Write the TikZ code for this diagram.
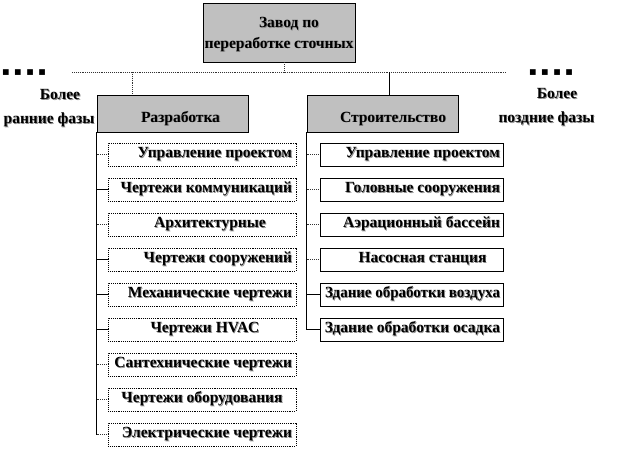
\documentclass[tikz,border=0pt]{standalone}
\usepackage{fontspec}
\setmainfont{Liberation Serif}
\newfontfamily\symfont{DejaVu Sans}
\definecolor{boxgray}{HTML}{C0C0C0}
\newcommand\shd[1]{\leavevmode\rlap{\textcolor{black!45}{\kern0.9pt\raisebox{-0.9pt}{#1}}}#1}
\newcommand\rtxt[2]{\makebox[#1][r]{\shd{#2}}}
\newcommand\lowtxt[2]{\raisebox{#1}[0pt][0pt]{#2}}
\begin{document}
\begin{tikzpicture}[x=1pt,y=-1pt,
  every node/.style={font=\fontsize{15.5}{21}\selectfont\bfseries, inner sep=0pt},
  graybox/.style={draw=black, fill=boxgray, line width=0.9pt, align=center},
  lsub/.style={draw=black, densely dotted, line width=0.9pt, fill=white,
    minimum width=188, minimum height=23},
  rsub/.style={draw=black, line width=0.8pt, fill=white,
    minimum width=183, minimum height=23},
  dotline/.style={densely dotted, line width=0.9pt, draw=black!80},
  solidline/.style={line width=0.8pt, draw=black},
  sidelabel/.style={},
  squares/.style={font=\symfont\fontsize{7.5}{8}\selectfont}
]
\useasboundingbox (0,0) rectangle (623,451);

% top
\node[graybox, minimum width=152, minimum height=59] (top) at (279,32.5)
  {\lowtxt{-5.5pt}{\hspace*{20pt}\shd{Завод по}}\\[0pt]\lowtxt{-5pt}{\shd{переработке сточных}}};
\coordinate (j0) at (284,72);
\coordinate (hl) at (72,72);
\coordinate (hr) at (506,72);
\draw[dotline] (hl) -- (hr);
\draw[dotline] (top.south -| j0) -- (j0);

% side labels
\node[squares] (sqL) at (24,73) {■\hspace{5pt}■\hspace{5pt}■\hspace{5pt}■};
\node[squares] (sqR) at (551,73) {■\hspace{5pt}■\hspace{5pt}■\hspace{5pt}■};
\node[sidelabel] (earlyA) at (60,95) {\shd{Более}};
\node[sidelabel] (earlyB) at (49,120) {\shd{ранние фазы}};
\node[sidelabel] (lateA) at (557,94) {\shd{Более}};
\node[sidelabel] (lateB) at (546.5,119) {\shd{поздние фазы}};

% level 1
\node[graybox, minimum width=151, minimum height=37] (dev) at (172.5,113.5)
  {\lowtxt{-8.5pt}{\hspace*{16pt}\shd{Разработка}}};
\node[graybox, minimum width=151, minimum height=37] (con) at (382.5,113.5)
  {\lowtxt{-8.5pt}{\hspace*{21pt}\shd{Строительство}}};
\coordinate (j1) at (132,72);
\coordinate (j2) at (389,72);
\draw[dotline] (j1) -- (j1 |- dev.north);
\draw[solidline] (j2) -- (j2 |- con.north);

% left column
\node[lsub] (L1) at (202,154.5) {\rtxt{180pt}{Управление проектом}};
\node[lsub] (L2) at (202,189.5) {\rtxt{180pt}{Чертежи коммуникаций}};
\node[lsub] (L3) at (202,224.5) {\hspace*{16pt}\shd{Архитектурные}};
\node[lsub] (L4) at (202,259.5) {\rtxt{180pt}{Чертежи сооружений}};
\node[lsub] (L5) at (202,294.5) {\rtxt{180pt}{Механические чертежи}};
\node[lsub] (L6) at (202,329.5) {\hspace*{6pt}\shd{Чертежи HVAC}};
\node[lsub] (L7) at (202,364.5) {\rtxt{180pt}{Сантехнические чертежи}};
\node[lsub] (L8) at (202,399.5) {\shd{Чертежи оборудования}};
\node[lsub] (L9) at (202,434.5) {\rtxt{180pt}{Электрические чертежи}};

\draw[solidline] (dev.south west) -- (dev.south west |- L9.west);
\foreach \n/\s in {L1/dotline,L2/solidline,L3/dotline,L4/solidline,L5/solidline,
  L6/solidline,L7/dotline,L8/dotline,L9/dotline}
  \draw[\s] (dev.south west |- \n.west) -- (\n.west);

% right column
\node[rsub] (R1) at (411.5,154.5) {\rtxt{177pt}{Управление проектом}};
\node[rsub] (R2) at (411.5,189.5) {\rtxt{177pt}{Головные сооружения}};
\node[rsub] (R3) at (411.5,224.5) {\rtxt{177pt}{Аэрационный бассейн}};
\node[rsub] (R4) at (411.5,259.5) {\hspace*{22pt}\shd{Насосная станция}};
\node[rsub] (R5) at (411.5,294.5) {\makebox[177pt][r]{\scalebox{0.965}[1]{\shd{Здание обработки воздуха}}}};
\node[rsub] (R6) at (411.5,329.5) {\rtxt{177pt}{Здание обработки осадка}};

\draw[solidline] (con.south west) -- (con.south west |- R6.west);
\foreach \n/\s in {R1/dotline,R2/dotline,R3/dotline,R4/dotline,R5/solidline,R6/solidline}
  \draw[\s] (con.south west |- \n.west) -- (\n.west);
\end{tikzpicture}
\end{document}
